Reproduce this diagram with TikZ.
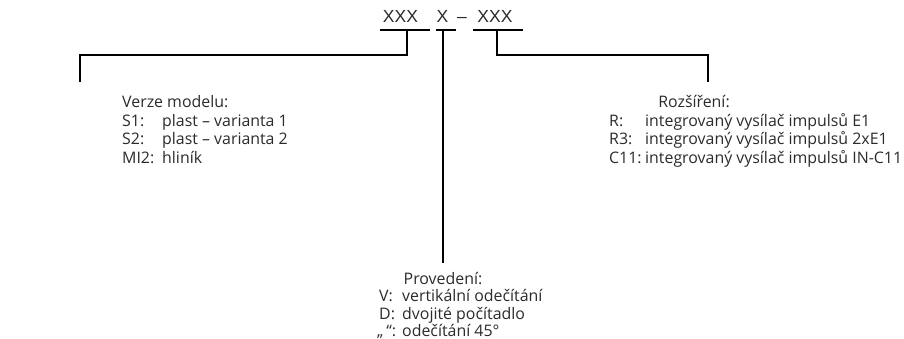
\documentclass[tikz,border=0pt]{standalone}
\usepackage{fontspec}
\setmainfont{Open Sans}
\newfontfamily\hdrfont{Liberation Sans}
\definecolor{txt}{HTML}{2B2B2B}
\tikzset{
  lbl/.style={anchor=base west, inner sep=0pt, font=\fontsize{15.9}{19}\selectfont, text=txt},
  ttl/.style={anchor=base, inner sep=0pt, font=\fontsize{15.9}{19}\selectfont, text=txt},
  hdr/.style={anchor=base, inner sep=0pt, font=\hdrfont\fontsize{17.5}{20}\selectfont, text=txt},
  bar/.style={line width=2.2pt, black}
}
\begin{document}
\begin{tikzpicture}[x=1pt,y=-1pt]
\useasboundingbox (0,0) rectangle (904,339);
% header
\node[hdr] (h1) at (400.5,23) {XXX};
\node[hdr] (h2) at (442.5,23) {X};
\node[hdr] (hd) at (462,23) {–};
\node[hdr] (h3) at (495,23) {XXX};
% bracket coordinates
\coordinate (u1a) at (380,30); \coordinate (u1b) at (430,30);
\coordinate (u2a) at (436,30); \coordinate (u2b) at (456,30);
\coordinate (u3a) at (473,30); \coordinate (u3b) at (523,30);
\coordinate (l0) at (407,30); \coordinate (l1) at (407,55);
\coordinate (l2) at (80,55); \coordinate (l3) at (80,82);
\coordinate (m0) at (443,30); \coordinate (m1) at (443,263);
\coordinate (r0) at (497,30); \coordinate (r1) at (497,55);
\coordinate (r2) at (708,55); \coordinate (r3) at (708,82);
\draw[bar] (u1a) -- (u1b);
\draw[bar] (u2a) -- (u2b);
\draw[bar] (u3a) -- (u3b);
\draw[bar] (l0) -- (l1) -- (l2) -- (l3);
\draw[bar] (m0) -- (m1);
\draw[bar] (r0) -- (r1) -- (r2) -- (r3);
% left block
\node[lbl] (vt) at (122,108) {Verze modelu:};
\node[lbl] (s1) at (122,126.5) {S1:};
\node[lbl] (s1v) at (162,126.5) {plast – varianta 1};
\node[lbl] (s2) at (122,145) {S2:};
\node[lbl] (s2v) at (162,145) {plast – varianta 2};
\node[lbl] (mi) at (122,163.5) {MI2:};
\node[lbl] (miv) at (162,163.5) {hliník};
% middle block
\node[ttl] (pt) at (443,284) {Provedení:};
\node[lbl] (pv) at (379,301.5) {V:};
\node[lbl] (pvv) at (402,301.5) {vertikální odečítání};
\node[lbl] (pd) at (379,319) {D:};
\node[lbl] (pdv) at (402,319) {dvojité počítadlo};
\node[lbl] (pq) at (377,336) {„\,“:};
\node[lbl] (pqv) at (402,336) {odečítání 45°};
% right block
\node[ttl] (rt) at (694,108) {Rozšíření:};
\node[lbl] (rr) at (609,126.5) {R:};
\node[lbl] (rrv) at (645,126.5) {integrovaný vysílač impulsů E1};
\node[lbl] (r3l) at (609,145) {R3:};
\node[lbl] (r3v) at (645,145) {integrovaný vysílač impulsů 2xE1};
\node[lbl] (c11) at (609,163.5) {C11:};
\node[lbl] (c11v) at (645,163.5) {integrovaný vysílač impulsů IN-C11};
\end{tikzpicture}
\end{document}
